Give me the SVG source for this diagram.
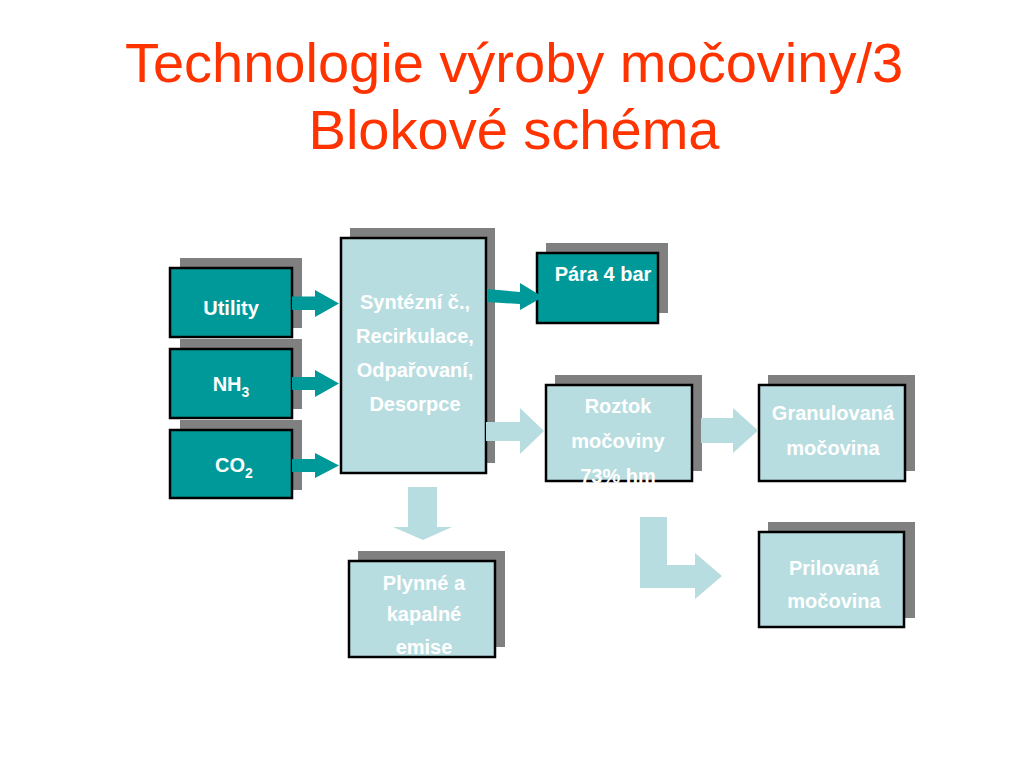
<svg xmlns="http://www.w3.org/2000/svg" width="1024" height="768" viewBox="0 0 1024 768">
<style>
.title{font-family:"Liberation Sans",Arial,Helvetica,sans-serif;font-size:56px;fill:#FF3300;text-anchor:middle}
.lbl{font-family:"Liberation Sans",Arial,Helvetica,sans-serif;font-size:20px;font-weight:bold;fill:#FFFFFF;text-anchor:middle}
.sub{font-size:14px}
.shadow{fill:#808080}
.teal{fill:#009999;stroke:#000000;stroke-width:2.5}
.light{fill:#B8DDE0;stroke:#000000;stroke-width:2.5}
.arT{fill:#009999}
.arL{fill:#B8DDE0}
</style>
<rect width="1024" height="768" fill="#FFFFFF"/>
<text class="title" x="514" y="82">Technologie výroby močoviny/3</text>
<text class="title" x="514" y="149">Blokové schéma</text>

<g id="node-utility">
<rect class="shadow" x="180" y="258" width="122" height="70"/>
<rect class="teal" x="170" y="268" width="122" height="69"/>
<text class="lbl" x="231" y="315">Utility</text>
</g>
<g id="node-nh3">
<rect class="shadow" x="180" y="339" width="122" height="70"/>
<rect class="teal" x="170" y="349" width="122" height="69"/>
<text class="lbl" x="231" y="391">NH<tspan class="sub" dy="6">3</tspan></text>
</g>
<g id="node-co2">
<rect class="shadow" x="180" y="420" width="122" height="70"/>
<rect class="teal" x="170" y="430" width="122" height="68"/>
<text class="lbl" x="234" y="472">CO<tspan class="sub" dy="6">2</tspan></text>
</g>
<g id="node-main">
<rect class="shadow" x="350" y="228" width="145" height="235"/>
<rect class="light" x="341" y="238" width="145" height="235"/>
<text class="lbl" x="415" y="309">Syntézní č.,</text>
<text class="lbl" x="415" y="343">Recirkulace,</text>
<text class="lbl" x="415" y="377">Odpařovaní,</text>
<text class="lbl" x="415" y="411">Desorpce</text>
</g>
<g id="node-para">
<rect class="shadow" x="546" y="243" width="122" height="70"/>
<rect class="teal" x="537" y="253" width="121" height="70"/>
<text class="lbl" x="603" y="281">Pára 4 bar</text>
</g>
<g id="node-roztok">
<rect class="shadow" x="555" y="375" width="147" height="96"/>
<rect class="light" x="546" y="385" width="146" height="96"/>
<text class="lbl" x="618" y="413">Roztok</text>
<text class="lbl" x="618" y="448">močoviny</text>
<text class="lbl" x="618" y="483">73% hm</text>
</g>
<g id="node-granulovana">
<rect class="shadow" x="768" y="375" width="147" height="96"/>
<rect class="light" x="759" y="385" width="146" height="96"/>
<text class="lbl" x="833" y="420">Granulovaná</text>
<text class="lbl" x="833" y="455">močovina</text>
</g>
<g id="node-prilovana">
<rect class="shadow" x="768" y="522" width="147" height="96"/>
<rect class="light" x="759" y="532" width="145" height="95"/>
<text class="lbl" x="834" y="575">Prilovaná</text>
<text class="lbl" x="834" y="608">močovina</text>
</g>
<g id="node-emise">
<rect class="shadow" x="358" y="551" width="147" height="96"/>
<rect class="light" x="349" y="561" width="146" height="96"/>
<text class="lbl" x="424" y="590">Plynné a</text>
<text class="lbl" x="424" y="621">kapalné</text>
<text class="lbl" x="424" y="654">emise</text>
</g>

<g id="connectors">
<polygon class="arT" points="292,296.5 315,296.5 315,290 339,303.5 315,317 315,310 292,310"/>
<polygon class="arT" points="292,377 315,377 315,370 339,383.5 315,397 315,390 292,390"/>
<polygon class="arT" points="292,459 315,459 315,453 339,465.5 315,478 315,472 292,472"/>
<polygon class="arT" points="487,289 520,292 520,283 543,297 520,310 520,304 487,302"/>
<polygon class="arL" points="486,422 520,422 520,408 544,431 520,454 520,441 486,441"/>
<polygon class="arL" points="701,418 733,418 733,408 758,430.5 733,453 733,443 701,443"/>
<polygon class="arL" points="408,487 437,487 437,527 452,527 423,540 393,527 408,527"/>
<polygon class="arL" points="640,517 667,517 667,565 695,565 695,553 722,576 695,599 695,588 640,588"/>
</g>
</svg>
